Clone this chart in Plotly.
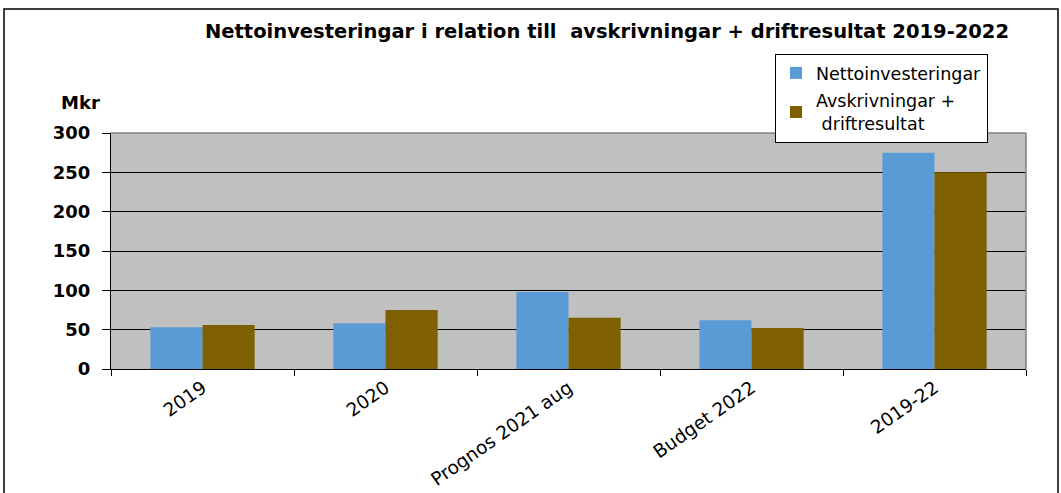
import plotly.graph_objects as go

categories = ["2019", "2020", "Prognos 2021 aug", "Budget 2022", "2019-22"]
netto = [53, 58, 98, 62, 275]
avskr = [56, 75, 65, 52, 250]
y_ticks = [0, 50, 100, 150, 200, 250, 300]

font = "DejaVu Sans, Verdana, sans-serif"

fig = go.Figure()
fig.add_trace(go.Bar(x=categories, y=netto, name="Nettoinvesteringar",
                     marker=dict(color="#5B9BD5", line=dict(width=0)), legendgroup="a"))
fig.add_trace(go.Bar(x=categories, y=avskr, name="Avskrivningar +<br> driftresultat",
                     marker=dict(color="#7F6000", line=dict(width=0)), legendgroup="b"))

fig.update_layout(
    width=1061, height=493,
    margin=dict(l=111, r=35, t=133, b=124, autoexpand=False),
    paper_bgcolor="white", plot_bgcolor="#C0C0C0",
    barmode="group", bargap=0.43, bargroupgap=0,
    font=dict(family=font, color="black"),
    title=dict(text="<b>Nettoinvesteringar i relation till  avskrivningar + driftresultat 2019-2022</b>",
               x=(607 / 1061), xanchor="center", y=1 - 31 / 493, yanchor="middle",
               font=dict(size=19.5, family=font)),
    legend=dict(x=0.7257, xanchor="left", y=(369 - 54) / 236, yanchor="top",
                bordercolor="black", borderwidth=1, bgcolor="white",
                font=dict(size=17.5, family=font), tracegroupgap=2,
                traceorder="grouped", itemwidth=30),
    showlegend=True,
)
fig.update_xaxes(type="category", showline=True, linecolor="black", linewidth=1,
                 ticks="outside", tickson="boundaries", ticklen=6, tickcolor="black",
                 tickangle=-35, tickfont=dict(size=18.5, family=font), mirror=False,
                 showgrid=False, automargin=False)
fig.update_yaxes(range=[0, 300], tickvals=y_ticks,
                 ticktext=["<b>%d</b>" % v for v in y_ticks],
                 showline=True, linecolor="black",
                 linewidth=1, ticks="outside", ticklen=8, tickcolor="black",
                 tickfont=dict(size=18, family=font), showgrid=True, gridcolor="black",
                 gridwidth=1, zeroline=False, ticklabelstandoff=8, automargin=False)

# top and right plot border (gray)
fig.add_shape(type="line", xref="paper", yref="paper", x0=0, x1=1, y0=1, y1=1,
              line=dict(color="#808080", width=1.5))
fig.add_shape(type="line", xref="paper", yref="paper", x0=1, x1=1, y0=0, y1=1,
              line=dict(color="#808080", width=1.5))
# outer frame
fig.add_shape(type="rect", xref="paper", yref="paper",
              x0=(4 - 111) / 915, x1=(1058 - 111) / 915,
              y0=(369 - 500) / 236, y1=(369 - 9) / 236,
              line=dict(color="black", width=1.5))

fig.add_annotation(text="<b>Mkr</b>", xref="paper", yref="paper",
                   x=(80 - 111) / 915, y=(369 - 103) / 236, showarrow=False,
                   xanchor="center", yanchor="middle", font=dict(size=18, family=font))

fig.write_html("out.html", config={"displayModeBar": False},
               post_script="document.body.style.margin='0';")
